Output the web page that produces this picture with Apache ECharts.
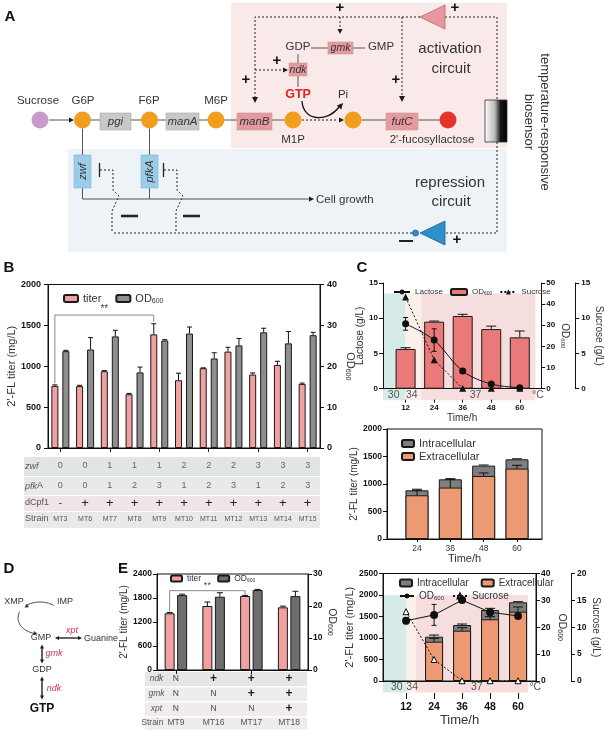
<!DOCTYPE html>
<html><head><meta charset="utf-8">
<script src="https://cdn.jsdelivr.net/npm/echarts@6/dist/echarts.min.js"></script>
<style>html,body{margin:0;padding:0;background:#fff}#c{width:605px;height:731px}</style>
</head><body><div id="c"></div>
<script>
// ---------------- DATA ----------------
const strainsB = ['MT3','MT6','MT7','MT8','MT9','MT10','MT11','MT12','MT13','MT14','MT15'];
const titerB = [760,757,939,658,1390,829,976,1179,898,1016,784];
const titerErrB = [12,10,8,10,130,86,5,53,20,45,10];
const odB = [23.7,24.1,27.3,18.5,26.3,28.0,21.9,25.1,28.3,25.6,27.6];
const odErrB = [0.2,2.9,1.5,1.3,0.2,1.6,1.4,1.7,1.0,2.9,0.7];
const zwfB = ['0','0','1','1','1','2','2','2','3','3','3'];
const pfkAB = ['0','0','1','2','3','1','2','3','1','2','3'];
const dCpf1B = ['-','+','+','+','+','+','+','+','+','+','+'];

const timeC1 = [12,24,36,48,60];
const lactoseC1 = [9.2,6.9,2.5,0.67,0.15];
const lactoseErrC1 = [0.9,1.6,0.3,0.2,0.1];
const odC1 = [18.8,31.7,34.4,28.2,24.3];
const odErrC1 = [0.6,0.3,0.8,1.4,3.0];
const sucroseC1 = [13.0,4.1,0.05,0.05,0.05];

const timeC2 = [24,36,48,60];
const extraC2 = [795,935,1146,1280];
const extraErrC2 = [90,150,55,60];
const intraC2 = [90,150,188,169];
const totalErrC2 = [20,12,12,10];

const timeC3 = [12,24,36,48,60];
const timeC3bars = [24,36,48,60];
const extraC3 = [914,1170,1435,1612];
const extraErrC3 = [77,70,62,110];
const intraC3 = [116,132,216,218];
const totalErrC3 = [39,23,39,15];
const odC3 = [22.4,24.6,30.1,25.6,24.2];
const odErrC3 = [1.1,3.9,0.6,0.8,0.4];
const sucroseC3 = [12.9,4.0,0.05,0.05,0.05];

const strainsE = ['MT9','MT16','MT17','MT18'];
const titerE = [1417,1600,1850,1567];
const titerErrE = [20,100,15,30];
const odE = [23.4,22.9,25.0,23.1];
const odErrE = [0.3,1.25,0.2,1.5];
const ndkE = ['N','+','+','+'];
const gmkE = ['N','N','+','+'];
const xptE = ['N','N','N','+'];

// ---------------- HELPERS ----------------
const FONT = 'Arial, "Liberation Sans", Helvetica, sans-serif';
const chart = echarts.init(document.getElementById('c'), null, {renderer:'canvas', width:605, height:731});

function errSeries(xi, yi, xs, ys, errs, dx, cap, both) {
  return { type:'custom', xAxisIndex:xi, yAxisIndex:yi, z:6, silent:true, encode:{x:0,y:1},
    data: xs.map((x,i)=>[x, ys[i], errs[i]]),
    renderItem(params, api){
      const v=api.value(1), e=api.value(2);
      const p0 = api.coord([api.value(0), both ? v-e : v]);
      const p1 = api.coord([api.value(0), v+e]);
      const x = p0[0]+dx;
      const st = {stroke:'#111', lineWidth:1};
      const ch = [
        {type:'line', shape:{x1:x,y1:p0[1],x2:x,y2:p1[1]}, style:st},
        {type:'line', shape:{x1:x-cap,y1:p1[1],x2:x+cap,y2:p1[1]}, style:st}];
      if (both) ch.push({type:'line', shape:{x1:x-cap,y1:p0[1],x2:x+cap,y2:p0[1]}, style:st});
      return {type:'group', children:ch};
    }};
}
function bracketSeries(xi, yi, spec, dx, label, fs) {
  return { type:'custom', xAxisIndex:xi, yAxisIndex:yi, z:6, silent:true, encode:{x:0,y:2},
    data:[spec],
    renderItem(params, api){
      const a = api.coord([api.value(0), api.value(2)]);
      const b = api.coord([api.value(1), api.value(2)]);
      const la = api.coord([api.value(0), api.value(3)]);
      const rb = api.coord([api.value(1), api.value(4)]);
      const xa=a[0]+dx, xb=b[0]+dx;
      return {type:'group', children:[
        {type:'polyline', shape:{points:[[xa,la[1]],[xa,a[1]],[xb,a[1]],[xb,rb[1]]]}, style:{stroke:'#8a8a8a', lineWidth:1, fill:null}},
        {type:'text', style:{text:label, x:(xa+xb)/2, y:a[1]-1, align:'center', verticalAlign:'bottom', fontSize:fs||10, fontFamily:FONT, fill:'#444'}}
      ]};
    }};
}
const AXL = {show:true, onZero:false, lineStyle:{color:'#111', width:1}};
const TICK = (len)=>({show:true, length:len||3, lineStyle:{color:'#111', width:1}});
const LBL = (fs, m)=>({color:'#111', fontSize:fs, fontWeight:'bold', fontFamily:FONT, margin:m==null?6:m, formatter:v=>String(v)});
const RICHS = (fs)=>({a:{fontSize:fs, fontFamily:FONT, color:'#333'}, s:{fontSize:Math.round(fs*0.62), fontFamily:FONT, color:'#333', padding:[Math.round(fs*0.45),0,0,0]}});
const OD = '{a|OD}{s|600}';

function valY(gi, min, max, interval, pos, name, nameGap, fs, extra) {
  return Object.assign({type:'value', gridIndex:gi, min, max, interval, position:pos,
    axisLine:AXL, axisTick:TICK(4), splitLine:{show:false},
    axisLabel:LBL(fs, 7),
    name, nameLocation:'middle', nameGap,
    nameTextStyle:{fontSize:fs+2, color:'#333', fontFamily:FONT, rich:RICHS(fs+2)}}, extra||{});
}
function rowAxis(gi, data, offset, name, o) {
  return { type:'category', gridIndex:gi, data, position:'bottom', offset,
    axisLine:{show:false, onZero:false}, axisTick:{show:false}, splitLine:{show:false},
    axisLabel:{interval:0, margin:0, verticalAlign:'middle', fontFamily:FONT, color:o.col||'#666', fontSize:o.fs||9,
      formatter: v => v==='+' ? '{p|+}' : (v==='-' ? '{m|-}' : '{n|'+v+'}'),
      rich:{p:{fontSize:o.pfs||12, color:'#222', fontFamily:FONT, fontWeight:o.pbold?'bold':'normal'},
            m:{fontSize:11, color:'#444', fontFamily:FONT},
            n:{fontSize:o.fs||9, color:o.col||'#666', fontFamily:FONT}}},
    name, nameLocation:'start', nameGap:o.gap,
    nameTextStyle:{align:o.align||'left', verticalAlign:'middle', fontFamily:FONT, fontSize:o.nfs||9, color:'#555',
      fontStyle:o.italic?'italic':'normal', rich:{i:{fontStyle:'italic', fontSize:o.nfs||9, color:'#555', fontFamily:FONT}, r:{fontSize:o.nfs||9, color:'#555', fontFamily:FONT}}}
  };
}
const NAMES = {B_titer:'titer', B_od:OD, C1_lac:'Lactose', C1_od:OD, C1_suc:'Sucrose',
  C2_intra:'Intracellular', C2_extra:'Extracellular', C3_intra:'Intracellular', C3_extra:'Extracellular',
  C3_od:OD, C3_suc:'Sucrose', E_titer:'titer', E_od:OD};
function legend(o) {
  return Object.assign({show:true, selectedMode:false, formatter:n=>NAMES[n],
    textStyle:{fontSize:o.fs, color:'#333', fontFamily:FONT, rich:RICHS(o.fs)}}, o);
}

const PINKB='#f2a0a0', GRAYB='#8e8e8e', REDC='#ea7a7a', ORC='#eb9a74', GRAYC='#7e7e7e';
const BORDER = {borderColor:'#1a1a1a', borderWidth:1};
const totalC2 = extraC2.map((v,i)=>v+intraC2[i]);
const totalC3 = extraC3.map((v,i)=>v+intraC3[i]);

// ---------------- OPTION ----------------
const option = {
  animation:false,
  backgroundColor:'#fff',
  textStyle:{fontFamily:FONT},
  grid:[
    {left:48, top:284.5, width:272, height:163.5, show:true, borderColor:'#111', borderWidth:1, backgroundColor:'transparent'},
    {left:383, top:283, width:161, height:105.7},
    {left:387, top:429, width:155, height:110, show:true, borderColor:'#111', borderWidth:1, backgroundColor:'transparent'},
    {left:383, top:573.5, width:153, height:107.5, show:true, borderColor:'#111', borderWidth:1, backgroundColor:'transparent'},
    {left:157, top:574, width:151, height:96, show:true, borderColor:'#111', borderWidth:1, backgroundColor:'transparent'}
  ],
  xAxis:[
    {type:'category', gridIndex:0, position:'bottom', data:strainsB, axisLine:AXL, axisTick:Object.assign(TICK(4),{alignWithLabel:true}), axisLabel:{show:false}},
    rowAxis(0, zwfB, 18, 'zwf', {gap:23, italic:true}),
    rowAxis(0, pfkAB, 38, '{i|pfk}{r|A}', {gap:23}),
    rowAxis(0, dCpf1B, 55, 'dCpf1', {gap:23, pfs:13}),
    rowAxis(0, strainsB, 71, 'Strain', {gap:23, fs:7, col:'#555'}),
    {type:'value', gridIndex:1, position:'bottom', min:2.5, max:69, axisLine:AXL, axisTick:{show:false}, axisLabel:{show:false}, splitLine:{show:false}},
    {type:'value', gridIndex:1, position:'bottom', min:2.5, max:69, offset:11, axisLine:{show:false, onZero:false},
      axisTick:Object.assign(TICK(3),{customValues:timeC1}), axisLabel:Object.assign(LBL(8,4),{customValues:timeC1}),
      splitLine:{show:false}, name:'Time/h', nameLocation:'middle', nameGap:14, nameTextStyle:{fontSize:10, color:'#333', fontFamily:FONT}},
    {type:'value', gridIndex:2, position:'bottom', min:13.2, max:69, axisLine:AXL, axisTick:Object.assign(TICK(3),{customValues:timeC2}),
      axisLabel:Object.assign(LBL(8.5,5),{customValues:timeC2, fontWeight:'normal', color:'#333'}), splitLine:{show:false},
      name:'Time/h', nameLocation:'middle', nameGap:14, nameTextStyle:{fontSize:11, color:'#333', fontFamily:FONT}},
    {type:'value', gridIndex:3, position:'bottom', min:2.1, max:67.7, axisLine:AXL, axisTick:{show:false}, axisLabel:{show:false}, splitLine:{show:false}},
    {type:'value', gridIndex:3, position:'bottom', min:2.1, max:67.7, offset:12, axisLine:{show:false, onZero:false},
      axisTick:Object.assign(TICK(6),{customValues:timeC3}), axisLabel:Object.assign(LBL(10.5,9),{customValues:timeC3}),
      splitLine:{show:false}, name:'Time/h', nameLocation:'middle', nameGap:21, nameTextStyle:{fontSize:13, color:'#333', fontFamily:FONT}},
    {type:'category', gridIndex:4, position:'bottom', data:strainsE, axisLine:AXL, axisTick:Object.assign(TICK(4),{alignWithLabel:true}), axisLabel:{show:false}},
    rowAxis(4, ndkE, 9, 'ndk', {gap:0.5, align:'center', italic:true, nfs:8.5, fs:8.5, col:'#444', pbold:true}),
    rowAxis(4, gmkE, 24, 'gmk', {gap:0.5, align:'center', italic:true, nfs:8.5, fs:8.5, col:'#444', pbold:true}),
    rowAxis(4, xptE, 39, 'xpt', {gap:0.5, align:'center', italic:true, nfs:8.5, fs:8.5, col:'#444', pbold:true}),
    rowAxis(4, strainsE, 53, 'Strain', {gap:0.5, align:'center', nfs:8.5, fs:8.5, col:'#555'})
  ],
  yAxis:[
    valY(0, 0, 2000, 500, 'left', "2'-FL titer (mg/L)", 31, 9),
    valY(0, 0, 40, 10, 'right', OD, 24, 9, {nameRotate:-90}),
    valY(1, 0, 15, 5, 'left', 'Lactose (g/L)', 11, 8, {axisLabel:LBL(8,5), nameTextStyle:{fontSize:10,color:'#333',fontFamily:FONT}}),
    valY(1, 0, 50, 10, 'right', OD, 18, 8, {nameRotate:-90, axisLabel:LBL(8,5)}),
    valY(1, 0, 15, 5, 'right', 'Sucrose (g/L)', 16, 8, {offset:34, nameRotate:-90, axisLabel:LBL(8,6), nameTextStyle:{fontSize:10,color:'#333',fontFamily:FONT}}),
    valY(2, 0, 2000, 500, 'left', "2'-FL titer (mg/L)", 25, 8.5, {axisLabel:LBL(8.5,5), nameTextStyle:{fontSize:10,color:'#333',fontFamily:FONT}}),
    valY(3, 0, 2500, 500, 'left', "2'-FL titer (mg/L)", 25, 8.5, {axisLabel:LBL(8.5,5), nameTextStyle:{fontSize:11,color:'#333',fontFamily:FONT}}),
    valY(3, 0, 40, 10, 'right', OD, 20, 8.5, {nameRotate:-90, axisLabel:LBL(8.5,5)}),
    valY(3, 0, 20, 5, 'right', 'Sucrose (g/L)', 17, 8.5, {offset:35, nameRotate:-90, axisLabel:LBL(8.5,6), nameTextStyle:{fontSize:10,color:'#333',fontFamily:FONT}}),
    valY(4, 0, 2400, 600, 'left', "2'-FL titer (mg/L)", 23, 8.5, {axisLabel:LBL(8.5,5), nameTextStyle:{fontSize:10,color:'#333',fontFamily:FONT}}),
    valY(4, 0, 30, 10, 'right', OD, 12, 8.5, {nameRotate:-90, axisLabel:LBL(8.5,5)})
  ],
  legend:[
    legend({left:58, top:288, itemWidth:14, itemHeight:7, itemGap:14, fs:11, data:['B_titer','B_od']}),
    legend({left:388, top:283, itemWidth:16, itemHeight:6, itemGap:7, fs:8, data:['C1_lac','C1_od','C1_suc']}),
    legend({left:396, top:433, orient:'vertical', itemWidth:12, itemHeight:7, itemGap:2, fs:11, data:['C2_intra','C2_extra']}),
    legend({left:394, top:573, itemWidth:12, itemHeight:7, itemGap:12, fs:10, data:['C3_intra','C3_extra']}),
    legend({left:394, top:586, itemWidth:14, itemHeight:6, itemGap:8, fs:10, data:['C3_od','C3_suc']}),
    legend({left:165, top:569, itemWidth:11, itemHeight:6, itemGap:16, fs:8.5, data:['E_titer','E_od']})
  ],
  series:[
    // ---- B ----
    {name:'B_titer', type:'bar', xAxisIndex:0, yAxisIndex:0, data:titerB, barWidth:7, barGap:'57%', itemStyle:Object.assign({color:PINKB},BORDER)},
    {name:'B_od', type:'bar', xAxisIndex:0, yAxisIndex:1, data:odB, barWidth:7, barGap:'57%', itemStyle:Object.assign({color:GRAYB},BORDER)},
    errSeries(0,0, strainsB.map((s,i)=>i), titerB, titerErrB, -5.5, 2.5),
    errSeries(0,1, strainsB.map((s,i)=>i), odB, odErrB, 5.5, 2.5),
    bracketSeries(0,0,[0,4,1626,790,1545], -5.5, '**'),
    // ---- C1 ----
    {name:'C1_od', type:'bar', xAxisIndex:5, yAxisIndex:3, data:timeC1.map((t,i)=>[t,odC1[i]]), barWidth:20, itemStyle:Object.assign({color:REDC},BORDER)},
    errSeries(5,3, timeC1, odC1, odErrC1, 0, 5),
    {name:'C1_lac', type:'line', xAxisIndex:5, yAxisIndex:2, z:5, smooth:0.35, data:timeC1.map((t,i)=>[t,lactoseC1[i]]),
      symbol:'circle', symbolSize:7, lineStyle:{color:'#111', width:1}, itemStyle:{color:'#111'}},
    errSeries(5,2, timeC1, lactoseC1, lactoseErrC1, 0, 2.5, true),
    {name:'C1_suc', type:'line', xAxisIndex:5, yAxisIndex:4, z:5, data:timeC1.map((t,i)=>[t,sucroseC1[i]]),
      symbol:'triangle', symbolSize:7, lineStyle:{color:'#111', width:1, type:[2,2]}, itemStyle:{color:'#111'}},
    // ---- C2 (gray total behind, orange extracellular in front) ----
    {name:'C2_intra', type:'bar', xAxisIndex:7, yAxisIndex:5, data:timeC2.map((t,i)=>[t,totalC2[i]]), barWidth:23, barGap:'-100%', itemStyle:Object.assign({color:GRAYC},BORDER)},
    {name:'C2_extra', type:'bar', xAxisIndex:7, yAxisIndex:5, data:timeC2.map((t,i)=>[t,extraC2[i]]), barWidth:23, barGap:'-100%', itemStyle:Object.assign({color:ORC},BORDER)},
    errSeries(7,5, timeC2, extraC2, extraErrC2, 0, 5),
    errSeries(7,5, timeC2, totalC2, totalErrC2, 0, 5),
    // ---- C3 ----
    {name:'C3_intra', type:'bar', xAxisIndex:8, yAxisIndex:6, data:timeC3bars.map((t,i)=>[t,totalC3[i]]), barWidth:18, barGap:'-100%', itemStyle:Object.assign({color:GRAYC},BORDER)},
    {name:'C3_extra', type:'bar', xAxisIndex:8, yAxisIndex:6, data:timeC3bars.map((t,i)=>[t,extraC3[i]]), barWidth:18, barGap:'-100%', itemStyle:Object.assign({color:ORC},BORDER)},
    errSeries(8,6, timeC3bars, extraC3, extraErrC3, 0, 5),
    errSeries(8,6, timeC3bars, totalC3, totalErrC3, 0, 5),
    {name:'C3_od', type:'line', xAxisIndex:8, yAxisIndex:7, z:5, data:timeC3.map((t,i)=>[t,odC3[i]]),
      symbol:'circle', symbolSize:8, lineStyle:{color:'#111', width:1}, itemStyle:{color:'#111'}},
    errSeries(8,7, timeC3, odC3, odErrC3, 0, 2.5, true),
    {name:'C3_suc', type:'line', xAxisIndex:8, yAxisIndex:8, z:5, data:timeC3.map((t,i)=>[t,sucroseC3[i]]),
      symbol:'triangle', symbolSize:6, lineStyle:{color:'#111', width:1, type:[2,2]}, itemStyle:{color:'#fff', borderColor:'#111', borderWidth:1}},
    // ---- E ----
    {name:'E_titer', type:'bar', xAxisIndex:10, yAxisIndex:9, data:titerE, barWidth:10, barGap:'25%', itemStyle:Object.assign({color:PINKB},BORDER)},
    {name:'E_od', type:'bar', xAxisIndex:10, yAxisIndex:10, data:odE, barWidth:10, barGap:'25%', itemStyle:Object.assign({color:'#6e6e6e'},BORDER)},
    errSeries(10,9, strainsE.map((s,i)=>i), titerE, titerErrE, -6.25, 3),
    errSeries(10,10, strainsE.map((s,i)=>i), odE, odErrE, 6.25, 3),
    bracketSeries(10,9,[0,2,1983,1460,1875], -6.25, '**', 9)
  ]
};
chart.setOption(option);

// ---------------- GRAPHIC (diagram, panel labels, table stripes, temperature bands) ----------------
const G = [];
function T(x,y,text,st,rot){ const e={type:'text', x, y, z:60, style:Object.assign({text, fill:'#333', fontSize:11.5, fontFamily:FONT, align:'center', verticalAlign:'middle'}, st||{})}; if(rot!=null) e.rotation=rot; G.push(e); }
function L(x1,y1,x2,y2,st){ G.push({type:'line', z:50, shape:{x1,y1,x2,y2}, style:Object.assign({stroke:'#444', lineWidth:1}, st||{})}); }
function PL(points,st){ G.push({type:'polyline', z:50, shape:{points}, style:Object.assign({stroke:'#444', lineWidth:1, fill:null}, st||{})}); }
function POLY(points,st){ G.push({type:'polygon', z:52, shape:{points}, style:st}); }
function R(x,y,w,h,st,z){ G.push({type:'rect', z:z==null?51:z, shape:{x,y,width:w,height:h}, style:st}); }
function C(cx,cy,r,fill,st){ G.push({type:'circle', z:53, shape:{cx,cy,r}, style:Object.assign({fill}, st||{})}); }
function AH(tx,ty,ang,size,fill){ size=size||5; const c=Math.cos(ang), s=Math.sin(ang); const bx=tx-size*c, by=ty-size*s, hw=size*0.5;
  G.push({type:'polygon', z:55, shape:{points:[[tx,ty],[bx-hw*s,by+hw*c],[bx+hw*s,by-hw*c]]}, style:{fill:fill||'#1a1a1a'}}); }
function BOX(x,y,w,h,fill,label,fs,stroke){ R(x,y,w,h,{fill, stroke:stroke||'#aaa', lineWidth:0.6}); T(x+w/2,y+h/2+0.5,label,{fontStyle:'italic', fontSize:fs||11.5, fill:'#333'}); }

const OR='#f19d1e', GRAYBOX='#c8c8c8', PINKBOX='#e59aa2', BLUEBOX='#9ccde8';
const DOT={stroke:'#222', lineWidth:1, lineDash:[2,2]};
const SOL={stroke:'#555', lineWidth:1};
const PLUS={fontSize:15, fontWeight:'bold', fill:'#111'};

// Panel labels
T(10,17,'A',{fontSize:15, fontWeight:'bold', fill:'#111'});
T(9,268,'B',{fontSize:15, fontWeight:'bold', fill:'#111'});
T(362,268,'C',{fontSize:15, fontWeight:'bold', fill:'#111'});
T(9,569,'D',{fontSize:15, fontWeight:'bold', fill:'#111'});
T(123,569,'E',{fontSize:15, fontWeight:'bold', fill:'#111'});

// Panel A backgrounds
R(231,3,276,145,{fill:'#fae9e9'},-5);
R(68,149,439,103,{fill:'#eef3f8'},-5);
// main pathway
C(40,120,8.5,'#c89bca'); T(38,101,'Sucrose');
L(49,120,70,120,SOL); AH(74,120,0,5);
C(82.5,120,8.5,OR); T(83,101,'G6P');
L(91,120,100,120,SOL); BOX(100,113,31,17,GRAYBOX,'pgi');
L(131,120,141,120,SOL); C(149.5,120,8.5,OR); T(149,101,'F6P');
L(158,120,166,120,SOL); BOX(166,113,33,17,GRAYBOX,'manA');
L(199,120,208,120,SOL); C(216,120,8.5,OR); T(216,101,'M6P');
L(224.5,120,237,120,SOL); BOX(237,113,35,17,PINKBOX,'manB',11.5,'#c98');
L(272,120,284.5,120,SOL); C(293,120,8.5,OR); T(293,140,'M1P');
L(302,120,338,120,DOT); AH(344,120,0,5);
C(353,120,8.5,OR);
L(361.5,120,386,120,SOL); BOX(386,113,32,17,PINKBOX,'futC',11.5,'#c98');
L(418,120,439.5,120,SOL); C(448,120,8.5,'#e5332a'); T(432,140,"2'-fucosyllactose");
// upper GTP branch
T(298,47,'GDP'); L(311,48,328,48,SOL); BOX(328,42,25,12,PINKBOX,'gmk',10.5,'#c98'); L(353,48,365,48,SOL); T(381,47,'GMP');
L(298,54,298,63,SOL); BOX(289,63,18,13,PINKBOX,'ndk',10.5,'#c98'); L(298,76,298,87,SOL);
T(298,95,'GTP',{fill:'#e02222', fontWeight:'bold', fontSize:12.5});
G.push({type:'bezierCurve', z:50, shape:{x1:302,y1:101,cpx1:303,cpy1:121,cpx2:327,cpy2:123,x2:339,y2:107}, style:{stroke:'#111', lineWidth:1.3, fill:null}});
AH(343,103,-0.85,6); T(343,95,'Pi');
// dotted regulation network
PL([[420,17],[255,17],[255,97]],DOT); AH(255,103,Math.PI/2,6);
L(255,70,283,70,DOT); AH(288,70,0,5);
L(340,17,340,29,DOT); AH(340,34,Math.PI/2,5);
L(402,17,402,96,DOT); AH(402,102,Math.PI/2,6);
PL([[445,17],[497,17],[497,100]],DOT);
PL([[497,142],[497,233],[445,233]],DOT);
L(412,233,112,233,DOT);
PL([[100,170],[113,170],[113,190],[119,196],[112,211],[112,233]],DOT);
PL([[164,170],[177,170],[177,190],[183,196],[176,211],[176,233]],DOT);
L(99.5,163,99.5,177,{stroke:'#222',lineWidth:1.3}); L(163.5,163,163.5,177,{stroke:'#222',lineWidth:1.3});
L(121,216,138,216,{stroke:'#222',lineWidth:2.5}); L(183,216,200,216,{stroke:'#222',lineWidth:2.5});
POLY([[420,17],[445,5],[445,29]],{fill:'#e8979d', stroke:'#b56a70', lineWidth:0.8});
POLY([[420,233],[445,221],[445,245]],{fill:'#2f90c9', stroke:'#1b5f8a', lineWidth:0.8});
C(415.5,233,3,'#2f90c9',{stroke:'#1b5f8a', lineWidth:0.8});
L(399,241,413,241,{stroke:'#222',lineWidth:2});
T(246,80,'+',PLUS); T(277,61,'+',PLUS); T(340,8,'+',PLUS); T(396,80,'+',PLUS); T(455,8,'+',PLUS); T(457,240,'+',PLUS);
// repression boxes and growth line
R(74,155,17,33,{fill:BLUEBOX, stroke:'#7fb3d0', lineWidth:0.6});
T(82.5,171.5,'zwf',{fontStyle:'italic', fontSize:11},Math.PI/2);
R(141,155,17,33,{fill:BLUEBOX, stroke:'#7fb3d0', lineWidth:0.6});
T(149.5,171.5,'pfkA',{fontStyle:'italic', fontSize:11},Math.PI/2);
L(82.5,128.5,82.5,155,SOL); L(82.5,188,82.5,199,SOL); L(149.5,128.5,149.5,155,SOL); L(149.5,188,149.5,199,SOL);
L(82.5,199,310,199,SOL); AH(314,199,0,5); T(316,199.5,'Cell growth',{align:'left'});
// biosensor
R(485,100,22,42,{fill:new echarts.graphic.LinearGradient(0,0,1,0,[{offset:0,color:'#ffffff'},{offset:0.45,color:'#b8b8b8'},{offset:0.7,color:'#151515'},{offset:1,color:'#000'}]), stroke:'#333', lineWidth:0.8});
T(450,49,'activation',{fontSize:15}); T(451,69,'circuit',{fontSize:15});
T(450,183,'repression',{fontSize:15}); T(451,202,'circuit',{fontSize:15});
T(545,122,'temperature-responsive',{fontSize:13},-Math.PI/2);
T(529,122,'biosensor',{fontSize:13},-Math.PI/2);

// Panel D
const DS={fontSize:9, fill:'#333'};
T(14,602,'XMP',DS); T(65,602,'IMP',DS);
function ell(t0,t1,n){ const pts=[]; for(let k=0;k<=n;k++){ const t=t0+(t1-t0)*k/n; pts.push([40+22*Math.cos(t), 618+16*Math.sin(t)]); } return pts; }
PL(ell(-0.9,-2.3,20),{stroke:'#333', lineWidth:0.9}); AH(24.5,607.5,2.6,4,'#333');
PL(ell(3.55,1.85,24),{stroke:'#333', lineWidth:0.9}); AH(37.5,634,0.25,4,'#333');
T(41,638,'GMP',DS);
L(58,638,79,638,{stroke:'#111',lineWidth:1.3}); AH(55,638,Math.PI,4); AH(82,638,0,4);
T(72,630,'xpt',{fontSize:9, fontStyle:'italic', fill:'#d1305a'});
T(84,638.5,'Guanine',Object.assign({align:'left'},DS));
L(42,648,42,660,{stroke:'#111',lineWidth:1.3}); AH(42,644.5,-Math.PI/2,4); AH(42,663.5,Math.PI/2,4);
T(54,653,'gmk',{fontSize:9, fontStyle:'italic', fill:'#d1305a'});
T(42,670,'GDP',DS);
L(42,680,42,696,{stroke:'#111',lineWidth:1.3}); AH(42,676.5,-Math.PI/2,4); AH(42,699.5,Math.PI/2,4);
T(54,688,'ndk',{fontSize:9, fontStyle:'italic', fill:'#d1305a'});
T(42,709,'GTP',{fontSize:12, fontWeight:'bold', fill:'#111'});

// Table stripes
R(24,457,296,19,{fill:'#e1e6e3'},-3); R(24,477,296,18,{fill:'#e7eae9'},-3);
R(24,496,296,15,{fill:'#efe4e7'},-3); R(24,512,296,16,{fill:'#e7eae9'},-3);
R(145,672,162,14,{fill:'#e4e7e6'},-3); R(145,687.5,162,13.5,{fill:'#eceeed'},-3);
R(145,702.5,162,13.5,{fill:'#f1ebeb'},-3); R(145,717.5,162,12,{fill:'#eceeee'},-3);

// Temperature bands via axis scales
function bands(xi, yi, topVal, segs, labels, fs) {
  const yTop = chart.convertToPixel({yAxisIndex:yi}, topVal);
  const y0 = chart.convertToPixel({yAxisIndex:yi}, 0);
  const yBot = y0 + 11.5;
  segs.forEach(s=>{
    const xa = chart.convertToPixel({xAxisIndex:xi}, s[0]);
    const xb = chart.convertToPixel({xAxisIndex:xi}, s[1]);
    R(xa, yTop, xb-xa, yBot-yTop, {fill:s[2]}, -1);
  });
  labels.forEach(l=>{
    T(chart.convertToPixel({xAxisIndex:xi}, l[0]), y0+6.5, l[1], {fontSize:fs, fill:'#555'});
  });
}
bands(5, 3, 45, [[2.5,12,'#d6eae8'],[12,18.6,'#f9f0ea'],[18.6,66.6,'#f7dede']],
  [[7,'30'],[14.6,'34'],[41.4,'37'],[67.6,'°C']], 10.5);
bands(8, 6, 2000, [[2.1,12.2,'#d6eae8'],[12.2,16.3,'#f9f0ea'],[16.3,64.3,'#f7dede']],
  [[8,'30'],[14.6,'34'],[42.3,'37'],[67.4,'°C']], 10.5);

chart.setOption({graphic:{elements:G}});
</script>
</body></html>
